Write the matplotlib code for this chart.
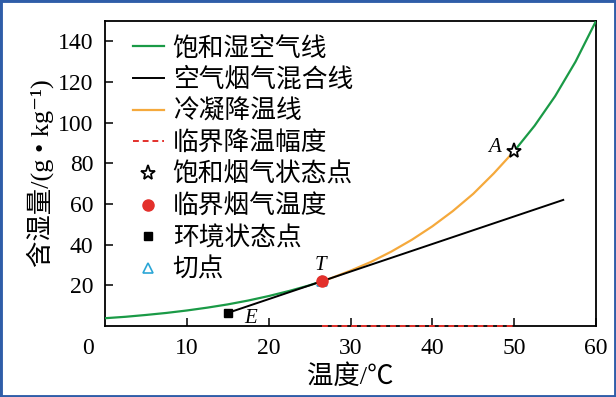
import matplotlib
matplotlib.use('Agg')
import matplotlib.pyplot as plt
import matplotlib.transforms as mtransforms
from matplotlib.patches import Rectangle
import numpy as np

plt.rcParams['font.family'] = ['Liberation Serif', 'Noto Sans CJK SC', 'DejaVu Sans']

# saturated moist air line (temperature / g per kg)
sat_t = [0, 2.5, 5, 7.5, 10, 12.5, 15, 17.5, 20, 22.5, 25, 26.5, 27.5, 30, 32.5, 35,
         37.5, 40, 42.5, 45, 47.5, 50, 52.5, 55, 57.5, 60]
sat_d = [3.8, 4.5, 5.4, 6.4, 7.6, 9.0, 10.6, 12.5, 14.7, 17.2, 20.0, 22.0, 23.3, 27.2, 31.5, 36.6,
         42.4, 49.0, 56.5, 65.0, 75.0, 86.0, 98.5, 113.0, 130.0, 150.0]

# key points
E = (15.0, 6.4)      # ambient state
T = (26.5, 22.0)     # critical flue gas temperature / tangent point
A = (50.0, 86.0)     # saturated flue gas state
mix_end = (56.0, 62.0)

labels = ['饱和湿空气线', '空气烟气混合线', '冷凝降温线', '临界降温幅度',
          '饱和烟气状态点', '临界烟气温度', '环境状态点', '切点']

green = '#1a9a46'
orange = '#f5a93c'
red = '#e3302b'
cyan = '#2ba6d6'

fig = plt.figure(figsize=(6.16, 3.97), dpi=100)
ax = fig.add_axes([0.1705, 0.179, 0.797, 0.768])

sat_t = np.array(sat_t)
sat_d = np.array(sat_d)
low = sat_t <= T[0]
mid = (sat_t >= T[0]) & (sat_t <= A[0])
high = sat_t >= A[0]

l1, = ax.plot(sat_t[low], sat_d[low], color=green, lw=1.6, zorder=3)
ax.plot(sat_t[high], sat_d[high], color=green, lw=1.6, zorder=3)
l2, = ax.plot([E[0], mix_end[0]], [E[1], mix_end[1]], color='black', lw=1.4, zorder=4)
l3, = ax.plot(sat_t[mid], sat_d[mid], color=orange, lw=1.6, zorder=3)
l4, = ax.plot([T[0], A[0]], [0, 0], color=red, lw=1.4, ls=(0, (3, 2)), zorder=5, clip_on=False)

m5, = ax.plot([A[0]], [A[1]], ls='none', marker='*', ms=11, mfc='white', mec='black', mew=1.3, zorder=6)
m8, = ax.plot([T[0]], [T[1]], ls='none', marker='^', ms=7, mfc='none', mec=cyan, mew=1.2, zorder=5)
m6, = ax.plot([T[0]], [T[1]], ls='none', marker='o', ms=8, color=red, zorder=6)
m7, = ax.plot([E[0]], [E[1]], ls='none', marker='s', ms=6, color='black', zorder=6)

ax.text(26.3, 29.5, 'T', fontsize=15, style='italic', ha='center', va='center')
ax.text(47.6, 88, 'A', fontsize=15, style='italic', ha='center', va='center')
ax.text(17.8, 3.5, 'E', fontsize=15, style='italic', ha='center', va='center')

ax.set_xlim(0, 60)
ax.set_ylim(0, 150)
ax.set_xticks([0, 10, 20, 30, 40, 50, 60])
ax.set_yticks([20, 40, 60, 80, 100, 120, 140])
ax.tick_params(direction='in', length=6, width=1.1, labelsize=17, pad=8.5)
for s in ax.spines.values():
    s.set_linewidth(1.3)

# origin label sits left of the axis corner
off = mtransforms.ScaledTranslation(-17 / 100, 0, fig.dpi_scale_trans)
xl = ax.get_xticklabels()
xl[0].set_transform(xl[0].get_transform() + off)
ax.xaxis.get_major_ticks()[0].tick1line.set_visible(False)

ax.set_xlabel('温度/℃', fontsize=19, labelpad=4)
ax.set_ylabel('含湿量/(g • kg⁻¹)', fontsize=19, labelpad=3)

ax.legend([l1, l2, l3, l4, m5, m6, m7, m8], labels, loc='upper left',
          bbox_to_anchor=(0.02, 1.012), frameon=False,
          handlelength=1.2, handletextpad=0.35, labelspacing=0.22,
          borderaxespad=0.3, prop={'family': ['Noto Sans CJK SC'], 'size': 18.5})

fig.patches.append(Rectangle((0, 0), 1, 1, transform=fig.transFigure, fill=False,
                             ec='#2f5da8', lw=3.5))

fig.savefig('out.png', dpi=100)
